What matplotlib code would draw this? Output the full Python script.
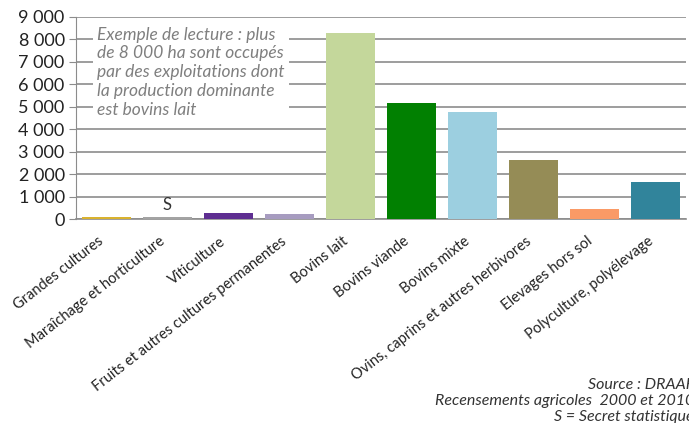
import numpy as np
import matplotlib.pyplot as plt

plt.rcParams['font.family'] = ['Lato', 'DejaVu Sans']

# Surfaces (ha) by dominant production
categories = ["Grandes cultures", "Maraîchage et horticulture", "Viticulture",
              "Fruits et autres cultures permanentes", "Bovins lait", "Bovins viande",
              "Bovins mixte", "Ovins, caprins et autres herbivores",
              "Elevages hors sol", "Polyculture, polyélevage"]
surfaces = [100, 80, 250, 220, 8300, 5180, 4780, 2630, 450, 1650]
colors = ["#D9B22E", "#A3A3A3", "#5E2E91", "#A79CC0", "#C4D79B", "#018001",
          "#9CCFE0", "#958C56", "#FA9A66", "#31849B"]
yticks = [0, 1000, 2000, 3000, 4000, 5000, 6000, 7000, 8000, 9000]
ytick_labels = ["0", "1 000", "2 000", "3 000", "4 000", "5 000",
                "6 000", "7 000", "8 000", "9 000"]

fig = plt.figure(figsize=(6.89, 4.23), dpi=100)
ax = fig.add_axes([0.110, 0.482, 0.886, 0.478])

x = np.arange(len(categories))
ax.bar(x, surfaces, width=0.8, color=colors, zorder=3)

ax.set_xlim(-0.5, len(categories) - 0.5)
ax.set_ylim(0, 9000)
ax.set_yticks(yticks)
ax.set_yticklabels(ytick_labels, fontsize=13, color="#222222")
ax.yaxis.grid(True, color="#8C8C8C", linewidth=1.2, zorder=0)
ax.tick_params(axis="y", length=5, color="#8C8C8C", pad=3)
ax.tick_params(axis="x", length=0, pad=11)

ax.set_xticks(x)
ax.set_xticklabels(categories, rotation=38, ha="right", fontsize=10.5, color="#222222")

for side in ["top", "right"]:
    ax.spines[side].set_visible(False)
ax.spines["left"].set_color("#8C8C8C")
ax.spines["bottom"].set_color("#8C8C8C")
ax.spines["bottom"].set_linewidth(1.2)

# secret statistique marker
ax.text(1, 280, "S", ha="center", va="bottom", fontsize=12, color="#333333", zorder=4)

# reading example
ax.text(0.035, 0.952,
        "Exemple de lecture : plus\nde 8 000 ha sont occupés\npar des exploitations dont\n"
        "la production dominante\nest bovins lait",
        transform=ax.transAxes, ha="left", va="top", fontsize=12.5, style="italic",
        color="#7F7F7F", linespacing=1.22, zorder=5,
        bbox=dict(facecolor="white", edgecolor="none", pad=3))

fig.text(1.007, 0.052,
         "Source : DRAAF\nRecensements agricoles  2000 et 2010\nS = Secret statistique",
         ha="right", va="center", fontsize=11.5, style="italic", color="#333333",
         linespacing=1.18)

fig.savefig("out.png", dpi=100)
